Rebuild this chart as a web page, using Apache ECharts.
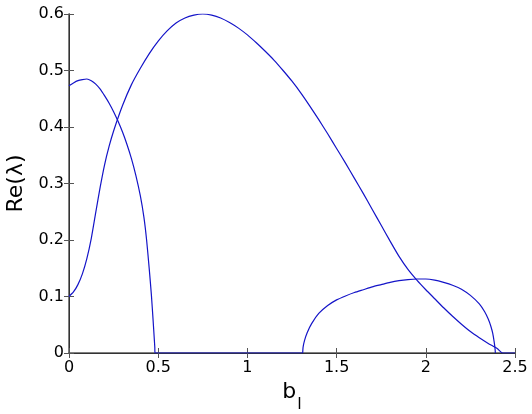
<!DOCTYPE html>
<html>
<head>
<meta charset="utf-8">
<script src="https://cdn.jsdelivr.net/npm/echarts@6/dist/echarts.min.js"></script>
<style>
  html, body { margin: 0; padding: 0; background: #fff; }
  #chart { width: 532px; height: 414px; }
</style>
</head>
<body>
<div id="chart"></div>
<script>
// tick positions
const xTicks = [0, 0.5, 1, 1.5, 2, 2.5]
const yTicks = [0, 0.1, 0.2, 0.3, 0.4, 0.5, 0.6]

// branch that starts near 0.47, dies at ~0.48 and stays on zero until C appears
const aX = [0, 0.025, 0.05, 0.075, 0.1, 0.125, 0.15, 0.175, 0.2, 0.225, 0.25, 0.275, 0.3, 0.325, 0.35, 0.375, 0.4, 0.42, 0.435, 0.45, 0.462, 0.471, 0.477, 0.481, 0.482, 0.5, 1.31]
const aY = [0.473, 0.478, 0.482, 0.484, 0.485, 0.482, 0.476, 0.467, 0.455, 0.442, 0.427, 0.41, 0.391, 0.369, 0.344, 0.314, 0.278, 0.24, 0.2, 0.148, 0.102, 0.06, 0.03, 0.01, 0, 0, 0]

// the big hump, max 0.6 near b=0.75
const bX = [0, 0.025, 0.05, 0.075, 0.1, 0.125, 0.15, 0.175, 0.2, 0.225, 0.25, 0.3, 0.35, 0.4, 0.45, 0.5, 0.55, 0.6, 0.65, 0.7, 0.75, 0.8, 0.85, 0.9, 0.95, 1.0,
  1.05, 1.1, 1.15, 1.2, 1.25, 1.3, 1.35, 1.4, 1.45, 1.5, 1.55, 1.6, 1.65, 1.7, 1.75, 1.8, 1.85, 1.9, 1.95, 2.0,
  2.05, 2.1, 2.15, 2.2, 2.25, 2.3, 2.35, 2.4, 2.43, 2.5]
const bY = [0.1, 0.108, 0.121, 0.14, 0.167, 0.203, 0.249, 0.294, 0.334, 0.366, 0.393, 0.438, 0.475, 0.504, 0.53, 0.552, 0.57, 0.584, 0.593, 0.598, 0.6, 0.598, 0.593, 0.585, 0.575, 0.563,
  0.549, 0.534, 0.518, 0.5, 0.481, 0.46, 0.437, 0.413, 0.388, 0.362, 0.336, 0.309, 0.282, 0.254, 0.226, 0.198, 0.171, 0.148, 0.129, 0.112,
  0.096, 0.08, 0.065, 0.051, 0.038, 0.027, 0.017, 0.008, 0, 0]

// small arc between 1.31 and 2.39
const cX = [1.31, 1.312, 1.32, 1.335, 1.36, 1.4, 1.45, 1.5, 1.55, 1.6, 1.65, 1.7, 1.75, 1.8, 1.85, 1.9, 1.95, 2.0, 2.05, 2.1, 2.15, 2.2, 2.25, 2.3, 2.33, 2.35, 2.365, 2.375, 2.383, 2.388, 2.39]
const cY = [0, 0.01, 0.022, 0.036, 0.052, 0.07, 0.084, 0.094, 0.101, 0.107, 0.112, 0.117, 0.121, 0.125, 0.128, 0.13, 0.131, 0.131, 0.129, 0.125, 0.12, 0.113, 0.102, 0.087, 0.073, 0.06, 0.047, 0.035, 0.02, 0.008, 0]

const lineColor = '#1414c8'
const font = 'DejaVu Sans, sans-serif'

const pairs = (xs, ys) => xs.map((x, i) => [x, ys[i]])

const curve = (xs, ys) => ({
  type: 'line',
  data: pairs(xs, ys),
  showSymbol: false,
  smooth: 0.2,
  clip: true,
  lineStyle: { color: lineColor, width: 1.2 },
  animation: false
})

const frame = {
  axisLine: { show: true, lineStyle: { color: '#555', width: 1.5 } },
  axisTick: { show: true, inside: true, length: 5, lineStyle: { color: '#555', width: 1 } },
  splitLine: { show: false }
}

const chart = echarts.init(document.getElementById('chart'))
chart.setOption({
  backgroundColor: '#fff',
  animation: false,
  grid: { left: 69, right: 17, top: 14, bottom: 61, containLabel: false, outerBoundsMode: 'none' },
  xAxis: [
    {
      type: 'value',
      min: xTicks[0],
      max: xTicks[xTicks.length - 1],
      interval: xTicks[1] - xTicks[0],
      ...frame,
      axisLabel: { color: '#000', fontFamily: font, fontSize: 16, margin: 7 },
      name: '{b|b}{s|l}',
      nameLocation: 'middle',
      nameGap: 24,
      nameTextStyle: {
        rich: {
          b: { fontFamily: font, fontSize: 22, color: '#000', lineHeight: 23, verticalAlign: 'top' },
          s: { fontFamily: font, fontSize: 16, color: '#000', lineHeight: 16, verticalAlign: 'top', padding: [16, 0, 0, 1] }
        }
      }
    },
    {
      type: 'value',
      position: 'top',
      min: xTicks[0],
      max: xTicks[xTicks.length - 1],
      interval: xTicks[1] - xTicks[0],
      ...frame,
      axisLine: { show: true, lineStyle: { color: '#333', width: 1 } },
      axisLabel: { show: false }
    }
  ],
  yAxis: [
    {
      type: 'value',
      min: yTicks[0],
      max: yTicks[yTicks.length - 1],
      interval: 0.1,
      ...frame,
      axisLabel: { color: '#000', fontFamily: font, fontSize: 16, margin: 5 },
      name: 'Re(λ)',
      nameLocation: 'middle',
      nameGap: 37,
      nameTextStyle: { fontFamily: font, fontSize: 22, color: '#000' }
    },
    {
      type: 'value',
      position: 'right',
      min: yTicks[0],
      max: yTicks[yTicks.length - 1],
      interval: 0.1,
      ...frame,
      axisLine: { show: true, lineStyle: { color: '#333', width: 1 } },
      axisLabel: { show: false }
    }
  ],
  series: [curve(aX, aY), curve(bX, bY), curve(cX, cY)]
})
</script>
</body>
</html>
